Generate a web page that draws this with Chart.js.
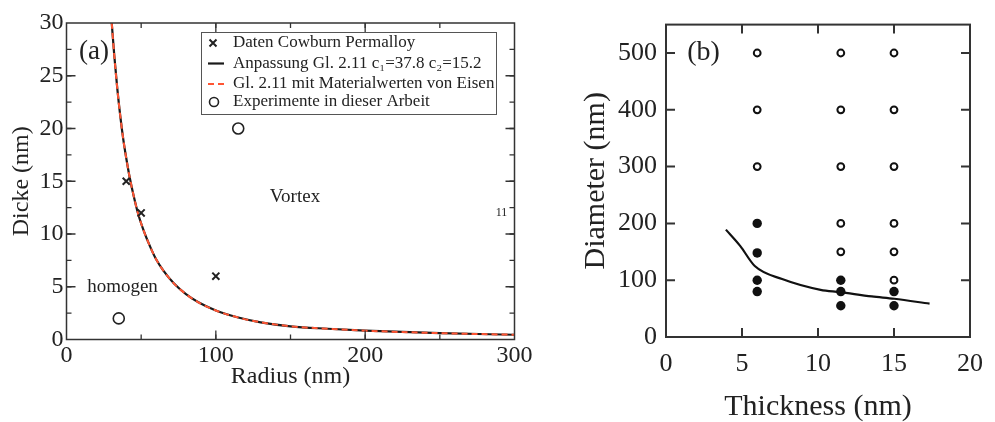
<!DOCTYPE html>
<html>
<head>
<meta charset="utf-8">
<script src="https://cdn.jsdelivr.net/npm/chart.js@4.4.1/dist/chart.umd.min.js"></script>
<style>
  body { margin: 0; background: #fff; width: 995px; height: 422px; overflow: hidden; position: relative; }
  canvas { position: absolute; top: 0; }
  #chartA { left: 0; }
  #chartB { left: 560px; }
</style>
</head>
<body>
<canvas id="chartA" width="550" height="422"></canvas>
<canvas id="chartB" width="435" height="422"></canvas>
<script>
// ---- panel (a): Dicke vs Radius ----
const fitRadius = [30.3, 32, 34, 36, 38, 40, 42, 45, 48, 52, 56, 60, 65, 72, 80, 88, 100, 115, 130, 150, 175, 200, 250, 300];
const fitDicke  = [30, 26.9, 23.8, 21.2, 19.0, 17.2, 15.6, 13.6, 11.9, 10.2, 8.8, 7.6, 6.5, 5.3, 4.3, 3.55, 2.75, 2.08, 1.63, 1.25, 1.02, 0.84, 0.6, 0.45];
const cowburnRadius = [40, 50, 100];
const cowburnDicke  = [15, 12, 6];
const experimentRadius = [35, 115];
const experimentDicke  = [2, 20];

// ---- panel (b): Diameter vs Thickness ----
const openThickness = [6, 6, 6, 11.5, 11.5, 11.5, 11.5, 11.5, 15, 15, 15, 15, 15, 15];
const openDiameter  = [500, 400, 300, 500, 400, 300, 200, 150, 500, 400, 300, 200, 150, 100];
const filledThickness = [6, 6, 6, 6, 11.5, 11.5, 11.5, 15, 15];
const filledDiameter  = [200, 148, 100, 80, 100, 80, 55, 80, 55];
const boundaryThickness = [3.94, 4.89, 5.84, 7.64, 10.17, 11.44, 13.54, 15.02, 17.34];
const boundaryDiameter  = [189, 160, 125, 102, 83, 79, 71.4, 67.3, 58.7];

const pts = (xs, ys) => xs.map((x, i) => ({ x: x, y: ys[i] }));
const serif = "'Liberation Serif', 'Times New Roman', serif";
const ink = '#222';

// box around the plot with inward ticks on all four sides
function drawFrame(chart, o) {
  const ctx = chart.ctx;
  const a = chart.chartArea;
  const sx = chart.scales.x, sy = chart.scales.y;
  ctx.save();
  ctx.strokeStyle = o.color;
  ctx.lineWidth = o.width;
  ctx.strokeRect(a.left, a.top, a.right - a.left, a.bottom - a.top);
  ctx.lineWidth = o.tickWidth;
  const list = [];
  const add = (scale, step, len) => {
    if (!step) return;
    for (let v = scale.min + step; v < scale.max - 1e-9; v += step) list.push([scale, v, len]);
  };
  add(sx, o.xMinor, o.minor);
  add(sy, o.yMinor, o.minor);
  add(sx, o.xMajor, o.major);
  add(sy, o.yMajor, o.major);
  list.forEach(([scale, v, len]) => {
    const p = scale.getPixelForValue(v);
    ctx.beginPath();
    if (scale === sx) {
      ctx.moveTo(p, a.bottom); ctx.lineTo(p, a.bottom - len);
      ctx.moveTo(p, a.top); ctx.lineTo(p, a.top + len);
    } else {
      ctx.moveTo(a.left, p); ctx.lineTo(a.left + len, p);
      ctx.moveTo(a.right, p); ctx.lineTo(a.right - len, p);
    }
    ctx.stroke();
  });
  ctx.restore();
}

// free text inside the plot, placed in data coordinates
function drawNotes(chart, items) {
  const ctx = chart.ctx;
  ctx.save();
  ctx.fillStyle = ink;
  ctx.textBaseline = 'middle';
  items.forEach(n => {
    ctx.font = n.size + 'px ' + serif;
    ctx.textAlign = n.align || 'left';
    ctx.fillText(n.text, chart.scales.x.getPixelForValue(n.x), chart.scales.y.getPixelForValue(n.y));
  });
  ctx.restore();
}

// boxed legend for panel (a)
function drawLegend(chart, o) {
  const ctx = chart.ctx;
  ctx.save();
  ctx.fillStyle = '#fff';
  ctx.fillRect(o.left, o.top, o.width, o.height);
  ctx.strokeStyle = '#555';
  ctx.lineWidth = 1;
  ctx.strokeRect(o.left + 0.5, o.top + 0.5, o.width, o.height);
  o.rows.forEach((idx, i) => {
    const ds = chart.data.datasets[idx];
    const cy = o.top + o.rowY[i];
    const cx = o.left + 12;
    ctx.strokeStyle = ds.borderColor;
    ctx.lineWidth = ds.borderWidth;
    ctx.setLineDash(ds.borderDash || []);
    ctx.beginPath();
    if (ds.showLine) {
      ctx.moveTo(cx - 5, cy); ctx.lineTo(cx + 11, cy);
    } else if (ds.pointStyle === 'circle') {
      ctx.arc(cx + 1, cy, ds.legendRadius, 0, Math.PI * 2);
    } else {
      const r = ds.legendRadius;
      ctx.moveTo(cx - r, cy - r); ctx.lineTo(cx + r, cy + r);
      ctx.moveTo(cx + r, cy - r); ctx.lineTo(cx - r, cy + r);
    }
    ctx.stroke();
    ctx.setLineDash([]);
    ctx.fillStyle = ink;
    ctx.font = o.size + 'px ' + serif;
    ctx.textAlign = 'left';
    ctx.textBaseline = 'middle';
    ctx.fillText(ds.label, o.left + o.textX, cy);
  });
  ctx.restore();
}

const framePlugin = (frame, notes, legend) => ({
  id: 'decor',
  afterDraw(chart) {
    try {
      drawFrame(chart, frame);
      drawNotes(chart, notes);
      if (legend) drawLegend(chart, legend);
    } catch (e) {
      chart.ctx.fillStyle = 'red';
      chart.ctx.font = '12px sans-serif';
      chart.ctx.fillText(String(e), 10, 410);
    }
  }
});

new Chart(document.getElementById('chartA'), {
  type: 'scatter',
  data: {
    datasets: [
      { label: 'Daten Cowburn Permalloy', data: pts(cowburnRadius, cowburnDicke),
        pointStyle: 'crossRot', pointRadius: 5, legendRadius: 3.5, borderWidth: 2, borderColor: ink, order: 0 },
      { label: 'Anpassung Gl. 2.11 c\u2081=37.8 c\u2082=15.2', data: pts(fitRadius, fitDicke), showLine: true,
        borderColor: '#1a1a1a', borderWidth: 2.2, pointRadius: 0, cubicInterpolationMode: 'monotone', order: 3 },
      { label: 'Gl. 2.11 mit Materialwerten von Eisen', data: pts(fitRadius, fitDicke), showLine: true,
        borderColor: '#ff5533', borderWidth: 2, borderDash: [6, 4], pointRadius: 0, cubicInterpolationMode: 'monotone', order: 2 },
      { label: 'Experimente in dieser Arbeit', data: pts(experimentRadius, experimentDicke),
        pointStyle: 'circle', pointRadius: 5.5, legendRadius: 4.5, borderWidth: 1.6, borderColor: ink,
        backgroundColor: 'rgba(0,0,0,0)', order: 0 }
    ]
  },
  options: {
    responsive: false,
    animation: false,
    devicePixelRatio: 1,
    layout: { padding: { top: 23, right: 35.5, left: 0, bottom: 0 } },
    plugins: { legend: { display: false }, tooltip: { enabled: false } },
    scales: {
      x: {
        type: 'linear', min: 0, max: 300,
        afterFit: s => { s.height = 82.5; },
        grid: { display: false, drawTicks: false },
        border: { display: false },
        ticks: { stepSize: 100, padding: 2, color: ink, font: { family: serif, size: 24 } },
        title: { display: true, text: 'Radius (nm)', color: ink, padding: { top: 0, bottom: 33 },
          font: { family: serif, size: 24, lineHeight: 1 } }
      },
      y: {
        min: 0, max: 30,
        afterFit: s => { s.width = 66.5; },
        grid: { display: false, drawTicks: false },
        border: { display: false },
        ticks: { stepSize: 5, padding: 3, color: ink, font: { family: serif, size: 24 } },
        title: { display: true, text: 'Dicke (nm)', color: ink, padding: { top: 10, bottom: 0 },
          font: { family: serif, size: 24, lineHeight: 1 } }
      }
    }
  },
  plugins: [framePlugin(
    { color: '#333', width: 1.5, tickWidth: 1.3, major: 9, minor: 5, xMajor: 100, yMajor: 5, xMinor: 50, yMinor: 2.5 },
    [
      { text: '(a)', x: 8.4, y: 27.3, size: 27 },
      { text: 'Vortex', x: 153, y: 13.5, size: 19, align: 'center' },
      { text: 'homogen', x: 37.5, y: 5.0, size: 19, align: 'center' },
      { text: '11', x: 291.3, y: 12.0, size: 12, align: 'center' }
    ],
    { left: 201, top: 32, width: 295, height: 82, rows: [0, 1, 2, 3], rowY: [11, 31.5, 52, 70], textX: 32, size: 17 }
  )]
});

new Chart(document.getElementById('chartB'), {
  type: 'scatter',
  data: {
    datasets: [
      { label: 'vortex', data: pts(openThickness, openDiameter),
        pointStyle: 'circle', pointRadius: 3.4, borderWidth: 2, borderColor: '#111', backgroundColor: '#fff', order: 0 },
      { label: 'single domain', data: pts(filledThickness, filledDiameter),
        pointStyle: 'circle', pointRadius: 4.7, borderWidth: 0, backgroundColor: '#111', order: 0 },
      { label: 'boundary', data: pts(boundaryThickness, boundaryDiameter), showLine: true,
        borderColor: '#111', borderWidth: 2.2, pointRadius: 0, cubicInterpolationMode: 'monotone', order: 1 }
    ]
  },
  options: {
    responsive: false,
    animation: false,
    devicePixelRatio: 1,
    layout: { padding: { top: 21, right: 13, left: 0, bottom: 0 } },
    plugins: { legend: { display: false }, tooltip: { enabled: false } },
    scales: {
      x: {
        type: 'linear', min: 0, max: 20,
        afterFit: s => { s.height = 85; },
        grid: { display: false, drawTicks: false },
        border: { display: false },
        ticks: { stepSize: 5, padding: 12, color: ink, font: { family: serif, size: 26 } },
        title: { display: true, text: 'Thickness (nm)', color: ink, padding: { top: 0, bottom: 0 },
          font: { family: serif, size: 30, lineHeight: 1 } }
      },
      y: {
        min: 0, max: 550,
        afterFit: s => { s.width = 106; },
        afterBuildTicks: s => { s.ticks = s.ticks.filter(t => t.value % 100 === 0); },
        grid: { display: false, drawTicks: false },
        border: { display: false },
        ticks: { stepSize: 100, padding: 9, color: ink, font: { family: serif, size: 26 } },
        title: { display: true, text: 'Diameter (nm)', color: ink, padding: { top: 21, bottom: 0 },
          font: { family: serif, size: 30, lineHeight: 1 } }
      }
    }
  },
  plugins: [framePlugin(
    { color: '#333', width: 2, tickWidth: 2, major: 9, minor: 0, xMajor: 5, yMajor: 100 },
    [ { text: '(b)', x: 1.4, y: 500, size: 28 } ],
    null
  )]
});
</script>
</body>
</html>
